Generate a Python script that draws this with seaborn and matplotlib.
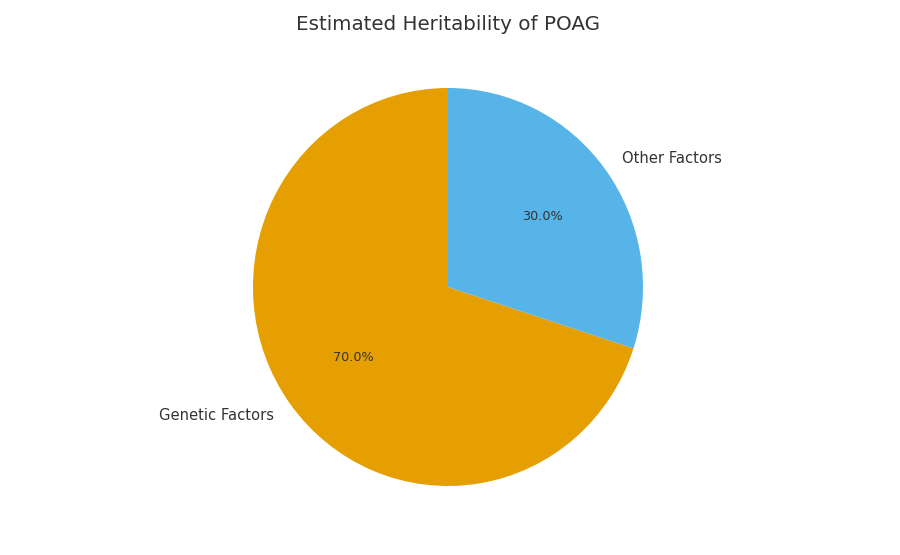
import matplotlib
matplotlib.use('Agg')
import matplotlib.pyplot as plt
import seaborn as sns

labels = ['Genetic Factors', 'Other Factors']
shares = [70, 30]
colors = ['#E69F00', '#56B4E9']

sns.set_theme(style='white')
plt.rcParams['font.family'] = ['DejaVu Sans']
plt.rcParams['text.color'] = '#333333'

fig = plt.figure(figsize=(9, 5.55), dpi=100)
ax = fig.add_axes([0.2269, 0.0347, 0.5417, 0.8964])
wedges, texts, autotexts = ax.pie(shares, labels=labels, colors=colors,
                                  autopct='%1.1f%%', startangle=90,
                                  wedgeprops={'linewidth': 0},
                                  textprops={'fontsize': 10.6, 'color': '#333333'})
for t in autotexts:
    t.set_fontsize(9.2)
ax.set_aspect('auto')
ax.set_title('Estimated Heritability of POAG', fontsize=14.3, color='#333333', pad=6)

fig.savefig('out.png', dpi=100)
